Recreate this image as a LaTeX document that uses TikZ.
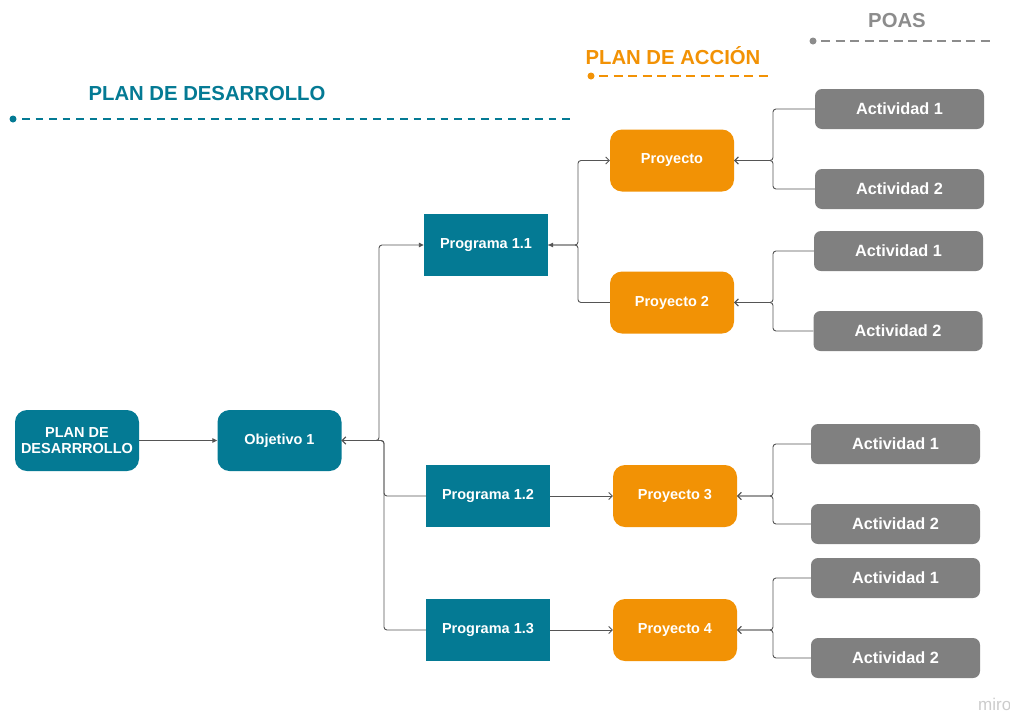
\documentclass[tikz,border=0pt]{standalone}
\usepackage{fontspec}
\setmainfont{Liberation Sans}
\usetikzlibrary{arrows.meta}
\definecolor{pdteal}{RGB}{4,122,148}
\definecolor{pdorange}{RGB}{242,146,5}
\definecolor{pdgray}{RGB}{128,128,128}
\definecolor{pdhgray}{RGB}{140,140,140}
\definecolor{pdline}{RGB}{85,85,85}
\begin{document}
\begin{tikzpicture}[x=1pt,y=-1pt,
  base/.style={text=white, font=\bfseries\fontsize{14.5}{16}\selectfont, align=center, inner sep=0pt},
  tealr/.style={base, fill=pdteal, rounded corners=12pt, minimum width=124pt, minimum height=61pt},
  tealsq/.style={base, fill=pdteal, minimum width=124pt, minimum height=62pt},
  proj/.style={base, fill=pdorange, rounded corners=12pt, minimum width=124pt, minimum height=62pt},
  act/.style={base, fill=pdgray, rounded corners=7pt, minimum width=169pt, minimum height=40pt, font=\bfseries\fontsize{16.3}{18}\selectfont},
  head/.style={font=\bfseries\fontsize{20.3}{24}\selectfont, inner sep=0pt},
  conn/.style={draw=pdline, line width=0.9pt, rounded corners=3pt},
  open/.style={conn, -{Straight Barb[length=3.5pt,width=7pt]}},
  filled/.style={conn, -{Triangle[length=5pt,width=4.5pt]}},
  dashl/.style={line width=2pt, dash pattern=on 9pt off 5.5pt},
  dasht/.style={line width=2pt, dash pattern=on 7.5pt off 6pt}
]
\useasboundingbox (0,0) rectangle (1010,713);
\fill[white] (0,0) rectangle (1010,713);

% headers
\node[head, text=pdteal] (h1) at (207,94) {PLAN DE DESARROLLO};
\fill[pdteal] (13,119) circle (3.5);
\draw[pdteal, dasht] (22,119) -- (572,119);
\node[head, text=pdorange] (h2) at (673,56) {PLAN DE ACCIÓN};
\fill[pdorange] (591,76) circle (3.5);
\draw[pdorange, dashl] (599,76) -- (770,76);
\node[head, text=pdhgray] (h3) at (897,21) {POAS};
\fill[pdhgray] (813,41) circle (3.5);
\draw[pdhgray, dashl] (821,41) -- (993,41);

% main nodes
\node[tealr] (pd) at (77,440.5) {PLAN DE\\DESARRROLLO};
\node[tealr] (obj) at (279.5,440.5) {Objetivo 1};
\node[tealsq] (p11) at (486,245) {Programa 1.1};
\node[tealsq] (p12) at (488,496) {Programa 1.2};
\node[tealsq] (p13) at (488,630) {Programa 1.3};
\node[proj] (pr1) at (672,160.5) {Proyecto};
\node[proj] (pr2) at (672,302.5) {Proyecto 2};
\node[proj] (pr3) at (675,496) {Proyecto 3};
\node[proj] (pr4) at (675,630) {Proyecto 4};
\node[act] (a11) at (899.5,109) {Actividad 1};
\node[act] (a12) at (899.5,189) {Actividad 2};
\node[act] (a21) at (898.5,251) {Actividad 1};
\node[act] (a22) at (898,331) {Actividad 2};
\node[act] (a31) at (895.5,444) {Actividad 1};
\node[act] (a32) at (895.5,524) {Actividad 2};
\node[act] (a41) at (895.5,578) {Actividad 1};
\node[act] (a42) at (895.5,658) {Actividad 2};

\coordinate (xo1) at (379,0);
\coordinate (xo2) at (384,0);
\coordinate (xp) at (578,0);
\coordinate (xa) at (773,0);

% connectors
\draw[filled] (pd.east) -- (obj.west);
\draw[filled] (obj.east) -- (obj.east -| xo1) |- (p11.west);
\draw[open] (p12.west) -- (p12.west -| xo2) |- (obj.east);
\draw[open] (p13.west) -- (p13.west -| xo2) |- (obj.east);
\draw[open] (p11.east) -- (p11.east -| xp) |- (pr1.west);
\draw[filled] (pr2.west) -- (pr2.west -| xp) |- (p11.east);
\draw[open] (p12.east) -- (pr3.west);
\draw[open] (p13.east) -- (pr4.west);
\draw[open] (a11.west) -- (a11.west -| xa) |- (pr1.east);
\draw[open] (a12.west) -- (a12.west -| xa) |- (pr1.east);
\draw[open] (a21.west) -- (a21.west -| xa) |- (pr2.east);
\draw[open] (a22.west) -- (a22.west -| xa) |- (pr2.east);
\draw[open] (a31.west) -- (a31.west -| xa) |- (pr3.east);
\draw[open] (a32.west) -- (a32.west -| xa) |- (pr3.east);
\draw[open] (a41.west) -- (a41.west -| xa) |- (pr4.east);
\draw[open] (a42.west) -- (a42.west -| xa) |- (pr4.east);

\node[anchor=west, inner sep=0pt, text=black!20, font=\fontsize{17}{19}\selectfont] (miro) at (978,704) {miro};
\end{tikzpicture}
\end{document}
